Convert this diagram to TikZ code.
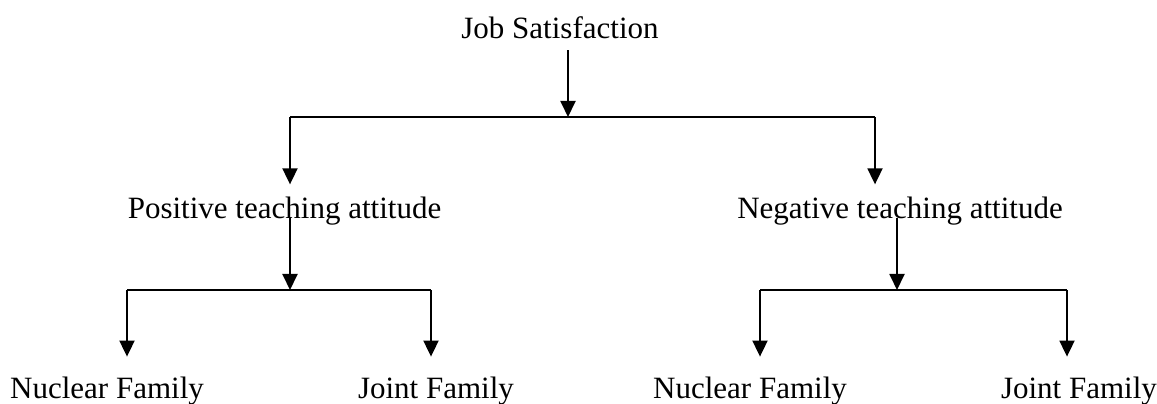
\documentclass[tikz,border=0pt]{standalone}
\usepackage{fontspec}
\setmainfont{Liberation Serif}
\usetikzlibrary{arrows.meta,positioning}
\tikzset{
>={Triangle[length=6.2pt,width=5.8pt]},
  txt/.style={
    font=\fontsize{12}{14}\selectfont,
    inner xsep=0pt,
    inner ysep=4.5pt,
    anchor=base},
  line/.style={draw, line width=0.75pt},
  arrow/.style={line, ->},
}

\begin{document}
\begin{tikzpicture}[x=0.387pt,y=-0.387pt]
\useasboundingbox (0,0) rectangle (1157,403);

\node[txt] (job) at (560,38) {Job Satisfaction};
\node[txt] (pos) at (284.5,218) {Positive teaching attitude};
\node[txt] (neg) at (900,218) {Negative teaching attitude};
\node[txt] (nuc1) at (107,398) {Nuclear Family};
\node[txt] (joi1) at (436,398) {Joint Family};
\node[txt] (nuc2) at (750,398) {Nuclear Family};
\node[txt] (joi2) at (1079,398) {Joint Family};

% junctions
\coordinate (j0) at (568,117);
\coordinate (p1) at (290,117);
\coordinate (n1) at (875,117);
\coordinate (p0) at (290,290);
\coordinate (n0) at (897,290);
\coordinate (pl) at (127,290);
\coordinate (pr) at (431,290);
\coordinate (nl) at (760,290);
\coordinate (nr) at (1067,290);

\draw[arrow] (job.south -| j0) -- (j0);
\draw[line] (p1) -- (n1);
\draw[arrow] (p1) -- (p1 |- pos.north);
\draw[arrow] (n1) -- (n1 |- neg.north);

\draw[arrow] (pos.base -| p0) -- (p0);
\draw[line] (pl) -- (pr);
\draw[arrow, shorten >=3pt] (pl) -- (pl |- nuc1.north);
\draw[arrow, shorten >=3pt] (pr) -- (pr |- joi1.north);

\draw[arrow] (neg.base -| n0) -- (n0);
\draw[line] (nl) -- (nr);
\draw[arrow, shorten >=3pt] (nl) -- (nl |- nuc2.north);
\draw[arrow, shorten >=3pt] (nr) -- (nr |- joi2.north);

\end{tikzpicture}
\end{document}
